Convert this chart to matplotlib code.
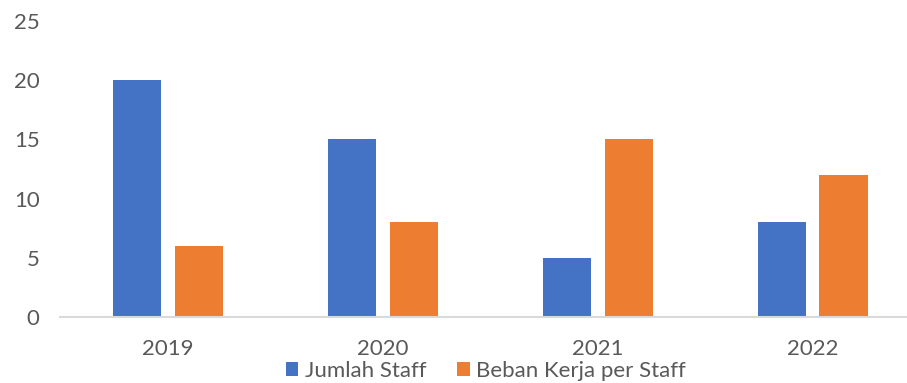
import numpy as np
import matplotlib
matplotlib.use("Agg")
import matplotlib.pyplot as plt

years = ["2019", "2020", "2021", "2022"]
jumlah_staff = [20, 15, 5, 8]
beban_kerja = [6, 8, 15, 12]

W, H = 907, 383
plt.rcParams["font.family"] = ["Lato", "DejaVu Sans"]
TXT = "#595959"
FS = 16

fig = plt.figure(figsize=(W / 100, H / 100), dpi=100)
x0, x1, y0, y1 = 60.5, 920.0, 317.0, 21.0
ax = fig.add_axes([x0 / W, 1 - y0 / H, (x1 - x0) / W, (y0 - y1) / H])

x = np.arange(len(years))
bw = 0.224
off = 0.144
ax.bar(x - off, jumlah_staff, bw, color="#4472c4", label="Jumlah Staff")
ax.bar(x + off, beban_kerja, bw, color="#ed7d31", label="Beban Kerja per Staff")

ax.set_xlim(-0.5, 3.5)
ax.set_ylim(0, 25)
ax.set_yticks([0, 5, 10, 15, 20, 25])
ax.set_xticks(x)
ax.set_xticklabels(years)
ax.tick_params(length=0, labelsize=FS, colors=TXT)
ax.tick_params(axis="y", pad=15)
ax.tick_params(axis="x", pad=16)
for s in ["top", "right", "left"]:
    ax.spines[s].set_visible(False)
ax.spines["bottom"].set_color("#d9d9d9")
ax.spines["bottom"].set_linewidth(1.5)

# legend centred at about (486, 371) px
leg = ax.legend(loc="center", bbox_to_anchor=((486 - x0) / (x1 - x0), (y0 - 371) / (y0 - y1)),
                ncol=2, frameon=False, fontsize=FS, handlelength=0.55, handleheight=0.55,
                handletextpad=0.3, columnspacing=1.4, borderpad=0)
for t in leg.get_texts():
    t.set_color(TXT)

fig.savefig("out.png", dpi=100)
